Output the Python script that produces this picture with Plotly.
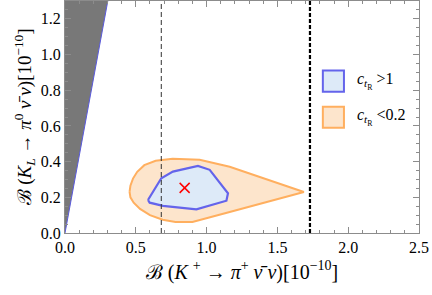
import plotly.graph_objects as go

# Grossman-Nir bound region (excluded): B(KL) > 4.3 B(K+)
gn_slope = 4.3
y_max = 1.3

# c_tR < 0.2 region (orange)
orange_x = [0.456, 0.462, 0.480, 0.510, 0.560, 0.640, 0.760, 0.951, 1.163, 1.687,
            1.163, 0.900, 0.780, 0.690, 0.600, 0.530, 0.485, 0.462, 0.456]
orange_y = [0.230, 0.265, 0.305, 0.343, 0.380, 0.405, 0.416, 0.410, 0.371, 0.230,
            0.118, 0.062, 0.062, 0.074, 0.100, 0.135, 0.170, 0.200, 0.230]

# c_tR > 1 region (blue)
blue_x = [0.586, 0.680, 0.762, 0.939, 1.022, 1.151, 1.140, 0.928, 0.692, 0.598, 0.586]
blue_y = [0.185, 0.307, 0.344, 0.376, 0.354, 0.223, 0.181, 0.133, 0.152, 0.170, 0.185]

# central value
sm_x = [0.845]
sm_y = [0.253]

# experimental bounds (dashed)
exp_lower = 0.68
exp_upper = 1.73

legend_labels = ["<i>c</i><sub><i>t</i><sub>R</sub></sub> >1", "<i>c</i><sub><i>t</i><sub>R</sub></sub> <0.2"]

SERIF = "Liberation Serif, Times New Roman, DejaVu Serif, serif"

fig = go.Figure()

# GN excluded region
fig.add_trace(go.Scatter(x=[0, 0, y_max / gn_slope, 0], y=[0, y_max, y_max, 0], fill="toself",
                         fillcolor="rgb(120,120,120)", line=dict(width=0), mode="lines",
                         showlegend=False, hoverinfo="skip"))
fig.add_trace(go.Scatter(x=[0, y_max / gn_slope], y=[0, y_max], mode="lines",
                         line=dict(color="rgb(90,90,220)", width=1), showlegend=False))

fig.add_trace(go.Scatter(x=orange_x, y=orange_y, fill="toself", fillcolor="rgb(253,229,204)",
                         line=dict(color="rgb(255,175,95)", width=2),
                         mode="lines", showlegend=False))
fig.add_trace(go.Scatter(x=blue_x, y=blue_y, fill="toself", fillcolor="rgb(221,234,248)",
                         line=dict(color="rgb(100,100,235)", width=2.2),
                         mode="lines", showlegend=False))

fig.add_trace(go.Scatter(x=[exp_lower, exp_lower], y=[0, y_max], mode="lines",
                         line=dict(color="rgb(50,50,50)", width=1, dash="5px,3px"), showlegend=False))
fig.add_trace(go.Scatter(x=[exp_upper, exp_upper], y=[0, y_max], mode="lines",
                         line=dict(color="black", width=2.2, dash="4px,2px"), showlegend=False))

fig.add_trace(go.Scatter(x=sm_x, y=sm_y, mode="markers",
                         marker=dict(symbol="x-thin", size=10, line=dict(color="red", width=1.5)),
                         showlegend=False))

# legend boxes
fig.add_shape(type="rect", x0=1.821, x1=1.970, y0=0.792, y1=0.910,
              fillcolor="rgb(221,234,248)", line=dict(color="rgb(100,100,235)", width=2))
fig.add_shape(type="rect", x0=1.821, x1=1.970, y0=0.590, y1=0.708,
              fillcolor="rgb(253,229,204)", line=dict(color="rgb(255,175,95)", width=2))
for lab, yy in zip(legend_labels, [0.851, 0.649]):
    fig.add_annotation(x=2.047, y=yy, text=lab, showarrow=False, xanchor="left", yanchor="middle",
                       font=dict(family=SERIF, size=16, color="black"))

axis_common = dict(showline=True, linecolor="rgb(140,140,140)", linewidth=1, mirror="allticks",
                   ticks="inside", ticklen=6, tickcolor="rgb(140,140,140)", showgrid=False,
                   zeroline=False, automargin=False,
                   tickfont=dict(family=SERIF, size=16, color="black"))

fig.update_xaxes(range=[0, 2.5], dtick=0.5, tickformat=".1f",
                 minor=dict(ticks="inside", ticklen=3, dtick=0.1, tickcolor="rgb(140,140,140)"),
                 title=dict(text="ℬ (<i>K</i> <sup>+</sup> → <i>π</i><sup>+</sup> <i>ν̄</i> <i>ν</i>)[10<sup>−10</sup>]",
                            font=dict(family=SERIF, size=20, color="black"), standoff=9),
                 **axis_common)
fig.update_yaxes(range=[0, 1.3], dtick=0.2, tickformat=".1f",
                 minor=dict(ticks="inside", ticklen=3, dtick=0.05, tickcolor="rgb(140,140,140)"),
                 title=dict(text="ℬ (<i>K<sub>L</sub></i> → <i>π</i><sup>0</sup> <i>ν̄</i> <i>ν</i>)[10<sup>−10</sup>]",
                            font=dict(family=SERIF, size=19, color="black"), standoff=4),
                 **axis_common)

fig.update_layout(width=432, height=295, margin=dict(l=65, r=13, t=1, b=62),
                  plot_bgcolor="white", paper_bgcolor="white", showlegend=False)

fig.write_html("out.html", config={"displayModeBar": False},
               post_script="document.body.style.margin='0';")
